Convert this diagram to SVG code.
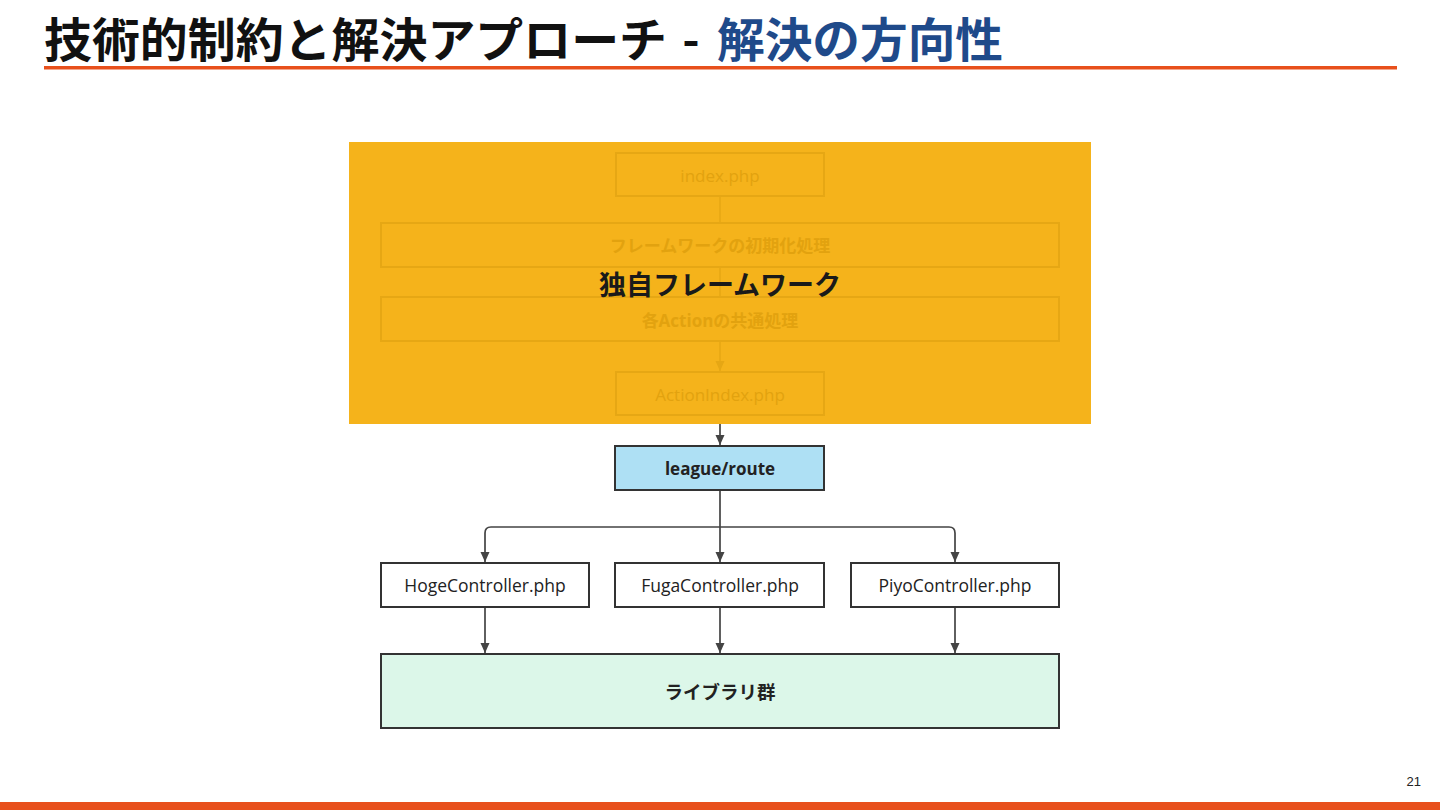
<svg xmlns="http://www.w3.org/2000/svg" width="1440" height="810" viewBox="0 0 1440 810">
<defs>
<style>
.t{font-family:"Noto Sans CJK JP","Noto Sans",sans-serif;}
.lbl{font-family:"Open Sans","Noto Sans CJK JP",sans-serif;font-size:17.5px;fill:#222;text-anchor:middle;dominant-baseline:central;}
.b{font-weight:bold;}
.box{fill:#fff;stroke:#333;stroke-width:2;}
.fbox{fill:none;stroke:#e6a714;stroke-width:2;}
.flbl{font-family:"Open Sans","Noto Sans CJK JP",sans-serif;font-size:17px;fill:#e2a20f;text-anchor:middle;dominant-baseline:central;}
.con{fill:none;stroke:#444;stroke-width:1.7;}
</style>
<marker id="ah" markerWidth="12" markerHeight="12" refX="11" refY="6" orient="auto" markerUnits="userSpaceOnUse">
<path d="M1,1.5 L11,6 L1,10.5 Z" fill="#444"/>
</marker>
<marker id="fah" markerWidth="12" markerHeight="12" refX="11" refY="6" orient="auto" markerUnits="userSpaceOnUse">
<path d="M1,1.5 L11,6 L1,10.5 Z" fill="#e6a714"/>
</marker>
</defs>
<rect width="1440" height="810" fill="#fff"/>
<g id="title">
<text class="t" x="44" y="57" font-size="47" font-weight="bold" fill="#111" textLength="623" lengthAdjust="spacingAndGlyphs">技術的制約と解決アプローチ</text>
<text class="t" x="691" y="57" font-size="47" font-weight="bold" fill="#111" text-anchor="middle">-</text>
<text class="t" x="717" y="57" font-size="47" font-weight="bold" fill="#1f4a8a" textLength="286" lengthAdjust="spacingAndGlyphs">解決の方向性</text>
<rect x="44" y="66" width="1353" height="3.5" fill="#e8501c"/>
</g>
<g id="connectors">
<line class="con" x1="720" y1="424" x2="720" y2="445" marker-end="url(#ah)"/>
<line class="con" x1="720" y1="490" x2="720" y2="562" marker-end="url(#ah)"/>
<path class="con" d="M720,527 H491 Q485,527 485,533 V562" marker-end="url(#ah)"/>
<path class="con" d="M720,527 H949 Q955,527 955,533 V562" marker-end="url(#ah)"/>
<line class="con" x1="485" y1="607" x2="485" y2="653" marker-end="url(#ah)"/>
<line class="con" x1="720" y1="607" x2="720" y2="653" marker-end="url(#ah)"/>
<line class="con" x1="955" y1="607" x2="955" y2="653" marker-end="url(#ah)"/>
</g>
<g id="framework">
<rect x="349" y="142" width="742" height="282" fill="#f5b31b"/>
<line x1="720" y1="196" x2="720" y2="223" stroke="#e6a714" stroke-width="1.5"/>
<line x1="720" y1="267" x2="720" y2="297" stroke="#e6a714" stroke-width="1.5"/>
<line x1="720" y1="341" x2="720" y2="371" stroke="#e6a714" stroke-width="1.5" marker-end="url(#fah)"/>
<g id="index"><rect class="fbox" x="616" y="153" width="208" height="43"/><text class="flbl" x="720" y="175">index.php</text></g>
<g id="init"><rect class="fbox" x="381" y="223" width="678" height="44"/><text class="flbl b" x="720" y="245">フレームワークの初期化処理</text></g>
<g id="common"><rect class="fbox" x="381" y="297" width="678" height="44"/><text class="flbl b" x="720" y="320">各Actionの共通処理</text></g>
<g id="actionindex"><rect class="fbox" x="616" y="372" width="208" height="43"/><text class="flbl" x="720" y="394">ActionIndex.php</text></g>
<text class="t" x="720" y="283" font-size="27" font-weight="bold" fill="#1a1a1a" text-anchor="middle" dominant-baseline="central">独自フレームワーク</text>
</g>
<g id="route"><rect class="box" x="615" y="446" width="209" height="44" style="fill:#aee0f4"/><text class="lbl b" x="720" y="468" style="font-size:17px">league/route</text></g>
<g id="hoge"><rect class="box" x="381" y="563" width="208" height="44"/><text class="lbl" x="485" y="585">HogeController.php</text></g>
<g id="fuga"><rect class="box" x="615" y="563" width="209" height="44"/><text class="lbl" x="720" y="585">FugaController.php</text></g>
<g id="piyo"><rect class="box" x="851" y="563" width="208" height="44"/><text class="lbl" x="955" y="585">PiyoController.php</text></g>
<g id="libs"><rect class="box" x="381" y="654" width="678" height="74" style="fill:#dcf7e9"/><text class="lbl b" x="720" y="691" style="font-size:18.5px">ライブラリ群</text></g>
<g id="footer">
<text x="1421" y="786" font-family="Liberation Sans, sans-serif" font-size="13" fill="#222" text-anchor="end">21</text>
<rect x="0" y="802" width="1440" height="8" fill="#e8501c"/>
</g>
</svg>
